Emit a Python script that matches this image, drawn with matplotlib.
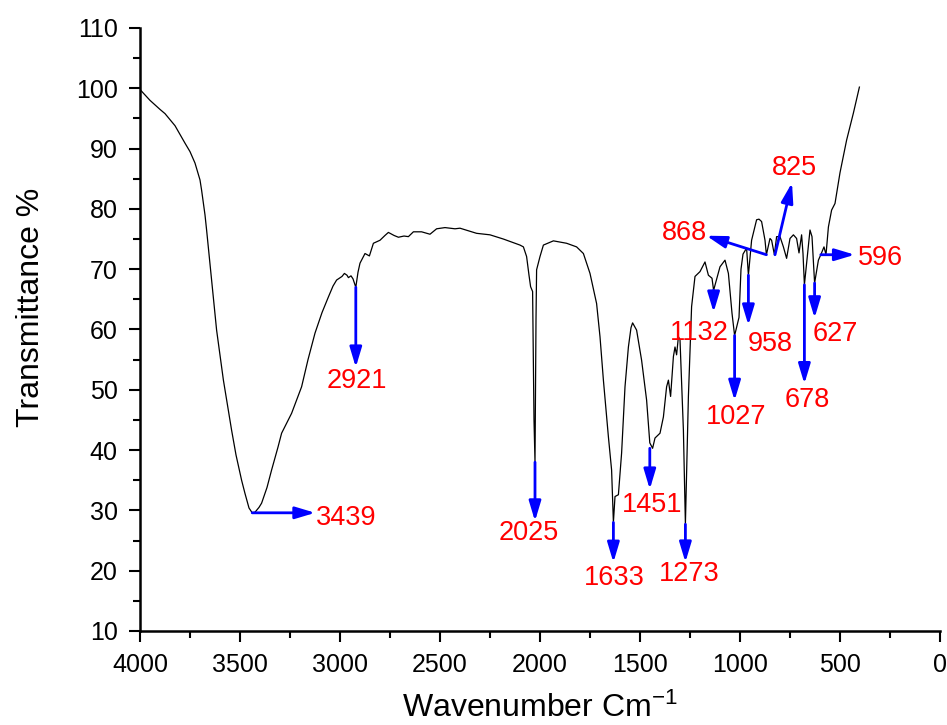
import numpy as np
import matplotlib
matplotlib.use("Agg")
import matplotlib.pyplot as plt

# FTIR spectrum (wavenumber cm-1, transmittance %)
wavenumber = [4000, 3950, 3900, 3875, 3825, 3775, 3750, 3725, 3700, 3692,
              3675, 3667, 3642, 3617, 3583, 3542, 3520, 3492, 3475, 3455,
              3439, 3425, 3405, 3392, 3365, 3342, 3310, 3292, 3242, 3192,
              3160, 3125, 3090, 3058, 3035, 3017, 2990, 2978, 2965, 2958,
              2945, 2935, 2921, 2910, 2900, 2875, 2853, 2833, 2800, 2775,
              2758, 2730, 2708, 2680, 2658, 2633, 2592, 2570, 2550, 2517,
              2475, 2425, 2400, 2317, 2250, 2183, 2133, 2100, 2083, 2067,
              2055, 2047, 2037, 2030, 2025, 2020, 2017, 2000, 1983, 1933,
              1867, 1817, 1783, 1750, 1717, 1700, 1683, 1658, 1642, 1633,
              1625, 1608, 1592, 1575, 1558, 1545, 1537, 1517, 1492, 1467,
              1451, 1437, 1425, 1400, 1383, 1367, 1358, 1347, 1333, 1325,
              1317, 1308, 1300, 1283, 1273, 1258, 1242, 1225, 1200, 1175,
              1158, 1140, 1132, 1100, 1075, 1058, 1040, 1027, 1005, 995,
              985, 967, 958, 942, 917, 905, 892, 875, 868, 850,
              842, 828, 817, 800, 783, 767, 750, 733, 717, 705,
              692, 685, 678, 650, 640, 627, 608, 596, 580, 570,
              558, 542, 525, 500, 467, 433, 403]
transmittance = [99.8, 98.0, 96.5, 95.8, 93.8, 90.9, 89.5, 87.6, 84.8, 83.1,
                 79.0, 76.5, 68.2, 59.9, 51.6, 43.3, 39.2, 35.0, 32.8, 30.4,
                 29.6, 29.7, 30.5, 31.2, 33.8, 36.7, 40.5, 42.8, 46.1, 50.5,
                 55.0, 59.4, 62.8, 65.4, 67.2, 68.2, 68.8, 69.3, 69.0, 68.6,
                 68.9, 68.4, 67.0, 69.5, 71.0, 72.6, 72.2, 74.3, 74.8, 75.6,
                 76.1, 75.6, 75.3, 75.5, 75.4, 76.2, 76.2, 76.0, 75.8, 76.7,
                 76.9, 76.7, 76.8, 75.95, 75.7, 75.0, 74.4, 74.0, 73.7, 72.1,
                 69.0, 67.1, 66.3, 45.0, 38.0, 61.6, 69.9, 72.1, 74.0, 74.7,
                 74.3, 73.7, 72.6, 69.3, 64.3, 58.8, 51.6, 42.2, 36.7, 28.0,
                 32.3, 32.6, 39.5, 50.5, 57.1, 60.3, 61.1, 59.9, 54.9, 48.3,
                 41.2, 40.3, 42.0, 42.8, 45.5, 50.5, 51.6, 48.9, 55.5, 57.1,
                 55.8, 58.8, 58.3, 43.3, 27.7, 48.9, 63.8, 68.8, 69.6, 71.2,
                 69.0, 68.5, 66.5, 70.4, 71.5, 69.3, 62.7, 59.0, 62.0, 70.0,
                 72.5, 73.5, 69.0, 74.8, 78.2, 78.3, 77.9, 74.8, 72.4, 75.1,
                 74.8, 72.4, 75.4, 75.4, 73.7, 71.8, 75.1, 75.7, 75.1, 72.7,
                 75.7, 72.6, 67.4, 76.5, 75.4, 67.7, 71.5, 72.4, 73.7, 72.4,
                 77.0, 79.8, 80.9, 86.0, 91.4, 95.9, 100.2]

# labelled bands: label, transmittance at the arrow foot
peak_labels = ["3439", "2921", "2025", "1633", "1451", "1273", "1132",
               "1027", "958", "868", "825", "678", "627", "596"]
peak_T = [29.6, 67.0, 38.0, 28.0, 40.3, 27.7, 66.5,
          59.0, 69.0, 72.4, 72.4, 67.4, 67.7, 72.4]

# arrow head offset and text offset in pixels, text alignment
arrow_off = {"3439": (63, 0), "2921": (0, -80), "2025": (0, -59),
             "1633": (0, -40), "1451": (0, -41), "1273": (0, -38),
             "1132": (0, -22), "1027": (0, -65), "958": (0, -50),
             "868": (-60, 19), "825": (17, 72), "678": (0, -99),
             "627": (0, -35), "596": (34, 0)}
text_off = {"3439": (64, -5, "left"), "2921": (1, -94, "center"),
            "2025": (-6, -71, "center"), "1633": (1, -56, "center"),
            "1451": (2, -57, "center"), "1273": (4, -50, "center"),
            "1132": (-14, -43, "center"), "1027": (2, -81, "center"),
            "958": (22, -69, "center"), "868": (-59, 22, "right"),
            "825": (19, 87, "center"), "678": (3, -115, "center"),
            "627": (21, -51, "center"), "596": (37, -3, "left")}

plt.rcParams['font.family'] = ['Liberation Sans', 'DejaVu Sans']
plt.rcParams['mathtext.default'] = 'regular'

fig = plt.figure(figsize=(9.47, 7.25), dpi=100)
ax = fig.add_axes([140 / 947, 1 - 631 / 725, 800 / 947, 603 / 725])

ax.plot(wavenumber, transmittance, color='black', lw=0.9)

for lab, t in zip(peak_labels, peak_T):
    x0 = float(lab)
    dx, dy = arrow_off[lab]
    ax.annotate('', xy=(x0, t), xytext=(dx, dy), textcoords='offset pixels',
                arrowprops=dict(arrowstyle='<|-,head_length=0.6,head_width=0.18',
                                color='blue', lw=2.0, mutation_scale=20,
                                shrinkA=0, shrinkB=0))
    tx, ty, ha = text_off[lab]
    ax.annotate(lab, xy=(x0, t), xytext=(tx, ty), textcoords='offset pixels',
                ha=ha, va='center', color='red', fontsize=19.5)

ax.set_xlim(4000, 0)
ax.set_ylim(10, 110)
ax.set_xticks(np.arange(4000, -1, -500))
ax.set_xticks(np.arange(3750, 0, -500), minor=True)
ax.set_yticks(np.arange(10, 111, 10))
ax.set_yticks(np.arange(15, 110, 10), minor=True)

for s in ['top', 'right']:
    ax.spines[s].set_visible(False)
for s in ['left', 'bottom']:
    ax.spines[s].set_linewidth(1.8)

ax.tick_params(which='major', direction='out', length=8, width=1.5,
               labelsize=18, pad=8)
ax.tick_params(which='minor', direction='out', length=5, width=1.5)

ax.set_xlabel('Wavenumber Cm$^{-1}$', fontsize=23, labelpad=11)
ax.set_ylabel('Transmittance %', fontsize=23)
ax.yaxis.set_label_coords(-0.118, 0.5365)

fig.savefig('out.png', dpi=100)
